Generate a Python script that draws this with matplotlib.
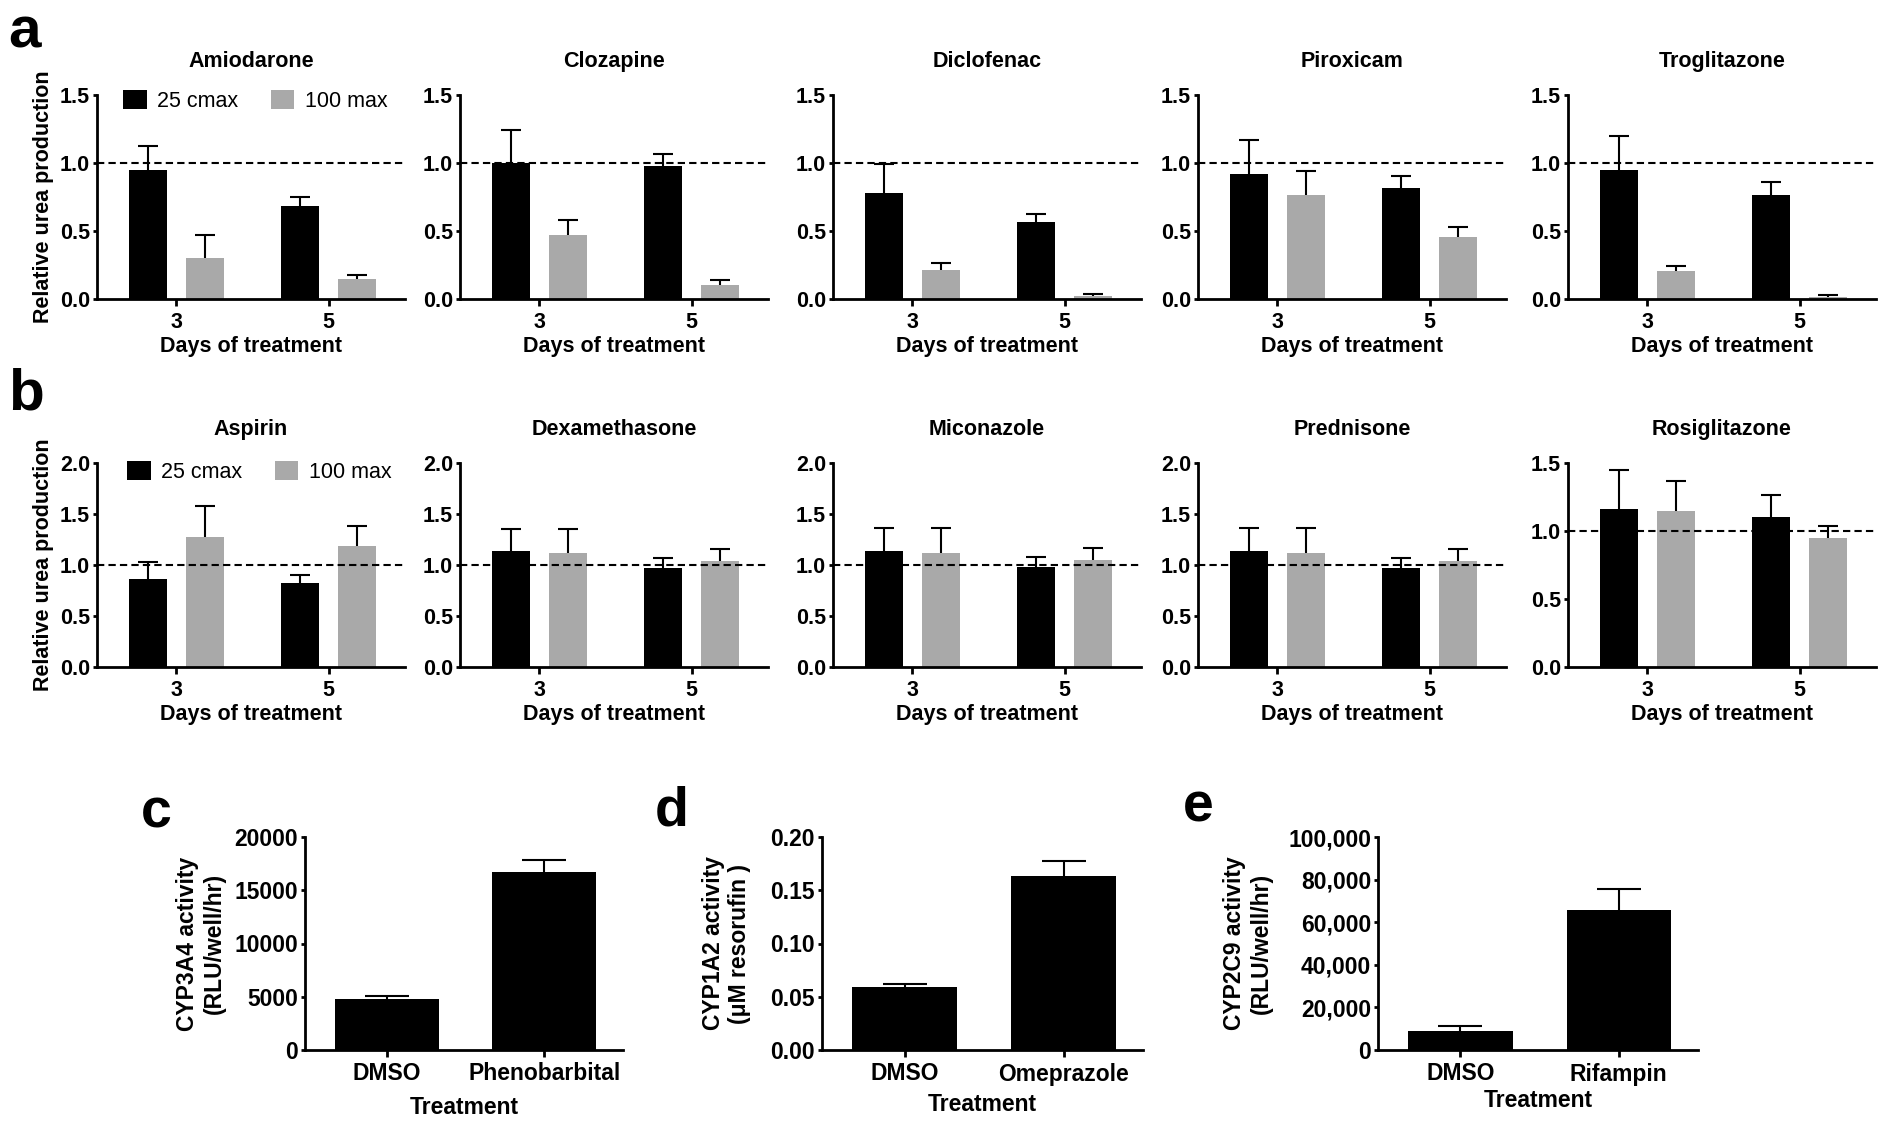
import matplotlib
matplotlib.use('Agg')
import matplotlib.pyplot as plt
from matplotlib.ticker import FormatStrFormatter, FuncFormatter, MultipleLocator
from matplotlib.patches import Patch
import numpy as np

plt.rcParams['font.family'] = ['Liberation Sans', 'DejaVu Sans']

# ---------------- data ----------------
days = ['3', '5']
series_names = ['25 cmax', '100 max']

drugs_a = ['Amiodarone', 'Clozapine', 'Diclofenac', 'Piroxicam', 'Troglitazone']
a_cmax25_mean = [[0.95, 0.685], [1.00, 0.975], [0.778, 0.568], [0.92, 0.813], [0.951, 0.767]]
a_cmax25_err = [[0.175, 0.065], [0.24, 0.09], [0.215, 0.058], [0.25, 0.093], [0.249, 0.096]]
a_max100_mean = [[0.30, 0.145], [0.467, 0.105], [0.215, 0.02], [0.764, 0.456], [0.203, 0.015]]
a_max100_err = [[0.17, 0.035], [0.115, 0.032], [0.049, 0.019], [0.174, 0.073], [0.037, 0.015]]
a_ymax = [1.5, 1.5, 1.5, 1.5, 1.5]

drugs_b = ['Aspirin', 'Dexamethasone', 'Miconazole', 'Prednisone', 'Rosiglitazone']
b_cmax25_mean = [[0.862, 0.826], [1.138, 0.969], [1.14, 0.977], [1.14, 0.97], [1.164, 1.103]]
b_cmax25_err = [[0.168, 0.079], [0.218, 0.104], [0.22, 0.098], [0.22, 0.10], [0.282, 0.162]]
b_max100_mean = [[1.272, 1.19], [1.119, 1.037], [1.12, 1.046], [1.12, 1.04], [1.15, 0.946]]
b_max100_err = [[0.302, 0.194], [0.237, 0.117], [0.24, 0.117], [0.24, 0.115], [0.218, 0.094]]
b_ymax = [2.0, 2.0, 2.0, 2.0, 1.5]

c_labels = ['DMSO', 'Phenobarbital']
c_mean = [4780, 16690]
c_err = [280, 1120]

d_labels = ['DMSO', 'Omeprazole']
d_mean = [0.0594, 0.1638]
d_err = [0.0025, 0.0137]

e_labels = ['DMSO', 'Rifampin']
e_mean = [9060, 65940]
e_err = [2190, 9840]

# ---------------- style ----------------
W, H = 1885, 1129
DPI = 100
fig = plt.figure(figsize=(W / DPI, H / DPI), dpi=DPI)
FS = 15.5
FS2 = 16.5
GRAY = '#a9a9a9'
SPINE_LW = 2.0
ERR_LW = 1.5


def add_ax(left, top, width, height):
    return fig.add_axes([left / W, 1 - (top + height) / H, width / W, height / H])


def style_ax(ax, fs):
    for s in ['top', 'right']:
        ax.spines[s].set_visible(False)
    for s in ['left', 'bottom']:
        ax.spines[s].set_linewidth(SPINE_LW)
    ax.tick_params(axis='x', length=5, width=SPINE_LW, pad=4, labelsize=fs)
    ax.tick_params(axis='y', length=3, width=SPINE_LW, pad=2, labelsize=fs)
    for lbl in ax.get_xticklabels() + ax.get_yticklabels():
        lbl.set_fontweight('bold')


def upper_err(ax, x, mean, err, cap):
    _, caps, _ = ax.errorbar(x, mean, yerr=[np.zeros(len(mean)), err], fmt='none',
                             ecolor='black', elinewidth=ERR_LW, capsize=cap,
                             capthick=ERR_LW, zorder=3)
    caps[0].set_visible(False)


def grouped_panel(ax, title, m25, e25, m100, e100, ymax, ylabel, legend_x, legend_y):
    x = np.arange(len(days))
    off = 0.1875
    bw = 0.25
    ax.bar(x - off, m25, width=bw, color='black', zorder=2, label=series_names[0])
    ax.bar(x + off, m100, width=bw, color=GRAY, zorder=2, label=series_names[1])
    upper_err(ax, x - off, m25, e25, 7)
    upper_err(ax, x + off, m100, e100, 7)
    ax.axhline(1.0, color='black', lw=1.5, dashes=(3.5, 2), zorder=4)
    ax.set_xlim(-0.52, 1.5)
    ax.set_ylim(0, ymax)
    ax.yaxis.set_major_locator(MultipleLocator(0.5))
    ax.yaxis.set_major_formatter(FormatStrFormatter('%.1f'))
    ax.set_xticks(x)
    ax.set_xticklabels(days)
    style_ax(ax, FS)
    ax.set_title(title, fontsize=FS, fontweight='bold', pad=20)
    ax.set_xlabel('Days of treatment', fontsize=FS, fontweight='bold')
    ax.xaxis.set_label_coords(0.5, -0.183)
    if ylabel:
        ax.set_ylabel('Relative urea production', fontsize=FS, fontweight='bold')
        ax.yaxis.set_label_coords(-0.14, 0.5)
        handles = [Patch(facecolor='black', edgecolor='none', label=series_names[0]),
                   Patch(facecolor=GRAY, edgecolor='none', label=series_names[1])]
        ax.legend(handles=handles, loc='center left', bbox_to_anchor=(legend_x, legend_y),
                  ncol=2, frameon=False, fontsize=FS, handlelength=1.1, handleheight=0.95,
                  handletextpad=0.5, columnspacing=1.5, borderpad=0, borderaxespad=0)


lefts = [97, 460, 833, 1198, 1568]
for i in range(5):
    ax = add_ax(lefts[i], 95, 308, 204)
    grouped_panel(ax, drugs_a[i], a_cmax25_mean[i], a_cmax25_err[i], a_max100_mean[i],
                  a_max100_err[i], a_ymax[i], i == 0, 0.084, 0.97)
for i in range(5):
    ax = add_ax(lefts[i], 463, 308, 204)
    grouped_panel(ax, drugs_b[i], b_cmax25_mean[i], b_cmax25_err[i], b_max100_mean[i],
                  b_max100_err[i], b_ymax[i], i == 0, 0.097, 0.955)


def simple_panel(ax, labels, mean, err, ymax, step, fmt, ylabel, xlab_y, ylab_x):
    x = np.arange(len(labels))
    ax.bar(x, mean, width=0.66, color='black', zorder=2)
    upper_err(ax, x, mean, err, 16)
    ax.set_xlim(-0.52, 1.5)
    ax.set_ylim(0, ymax)
    ax.yaxis.set_major_locator(MultipleLocator(step))
    ax.yaxis.set_major_formatter(fmt)
    ax.set_xticks(x)
    ax.set_xticklabels(labels)
    style_ax(ax, FS2)
    ax.set_xlabel('Treatment', fontsize=FS2, fontweight='bold')
    ax.xaxis.set_label_coords(0.5, xlab_y)
    ax.set_ylabel(ylabel, fontsize=FS2, fontweight='bold')
    ax.yaxis.set_label_coords(ylab_x, 0.5)


ax_c = add_ax(305, 837, 318, 213)
simple_panel(ax_c, c_labels, c_mean, c_err, 20000, 5000, FormatStrFormatter('%d'),
             'CYP3A4 activity\n(RLU/well/hr)', -0.215, -0.25)
ax_d = add_ax(822, 837, 321, 213)
simple_panel(ax_d, d_labels, d_mean, d_err, 0.20, 0.05, FormatStrFormatter('%.2f'),
             'CYP1A2 activity\n(\u03bcM resorufin )', -0.2, -0.22)
ax_e = add_ax(1378, 837, 320, 213)
simple_panel(ax_e, e_labels, e_mean, e_err, 100000, 20000,
             FuncFormatter(lambda v, p: '{:,.0f}'.format(v)),
             'CYP2C9 activity\n(RLU/well/hr)', -0.185, -0.33)

# panel letters
for letter, px, py, fs in [('a', 8, 48, 42), ('b', 8, 409, 42), ('c', 141, 827, 40),
                            ('d', 655, 826, 40), ('e', 1183, 822, 40)]:
    fig.text(px / W, 1 - py / H, letter, fontsize=fs, fontweight='bold',
             ha='left', va='baseline')

fig.savefig('out.png', dpi=DPI)
